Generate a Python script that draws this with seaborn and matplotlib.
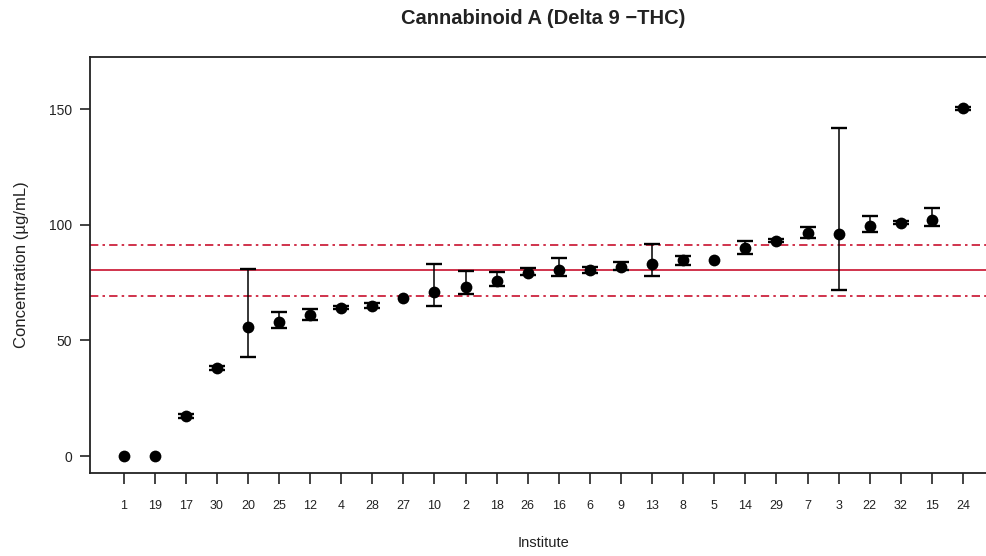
import numpy as np
import pandas as pd
import matplotlib
matplotlib.use("Agg")
import matplotlib.pyplot as plt
import seaborn as sns

# ---- data ----
institutes = ["1", "19", "17", "30", "20", "25", "12", "4", "28", "27", "10", "2", "18", "26",
              "16", "6", "9", "13", "8", "5", "14", "29", "7", "3", "22", "32", "15", "24"]
concentration = [0.0, 0.0, 17.4, 37.9, 55.9, 58.1, 61.0, 64.1, 65.0, 68.5, 71.0, 73.2, 75.7, 79.3,
                 80.4, 80.4, 81.8, 82.9, 84.7, 84.7, 89.8, 93.1, 96.3, 96.0, 99.4, 100.9, 102.0, 150.3]
lower = [0.0, 0.0, 16.6, 37.1, 42.9, 55.2, 58.7, 63.4, 63.8, 68.5, 64.9, 69.9, 73.5, 78.3,
         77.8, 79.0, 80.4, 77.8, 82.6, 84.7, 87.3, 92.3, 94.1, 71.8, 96.7, 100.2, 99.4, 149.6]
upper = [0.0, 0.0, 18.2, 38.7, 80.8, 62.1, 63.7, 64.8, 66.1, 68.5, 82.9, 80.0, 79.7, 81.1,
         85.5, 81.9, 83.7, 91.7, 86.5, 84.7, 93.1, 93.9, 99.1, 141.9, 103.8, 101.6, 107.3, 151.0]
consensus_mean = 80.4
consensus_upper = 91.0
consensus_lower = 69.0
y_ticks = [0, 50, 100, 150]

df = pd.DataFrame({"Institute": institutes, "Concentration": concentration,
                   "lower": lower, "upper": upper})

sns.set_theme(style="white")
plt.rcParams["font.family"] = ["Liberation Sans", "DejaVu Sans"]
text_col = "#222222"
red = "#c8102e"

fig = plt.figure(figsize=(9.87, 5.56), dpi=100)
ax = fig.add_axes([90 / 987, 1 - 472.5 / 556, (996.6 - 90) / 987, (472.5 - 57.3) / 556])

# points (sets the categorical x axis in institute order)
sns.scatterplot(data=df, x="Institute", y="Concentration", ax=ax, color="black",
                s=72, edgecolor="black", linewidth=0, zorder=3)

# consensus lines
ax.axhline(consensus_mean, color=red, lw=1.2, zorder=1)
for v in (consensus_upper, consensus_lower):
    ax.axhline(v, color=red, lw=1.2, ls=(0, (5, 2.5, 1.5, 2.5)), zorder=1)

# error bars (only where a spread exists)
eb = df[df["upper"] > df["lower"]]
yerr = np.vstack([eb["Concentration"] - eb["lower"], eb["upper"] - eb["Concentration"]])
ax.errorbar(eb["Institute"], eb["Concentration"], yerr=yerr, fmt="none",
            ecolor="black", elinewidth=1.1, capsize=6, capthick=1.7, zorder=2)

ax.set_xlim(-1.08, len(institutes) - 1 + 1.08)
ax.set_ylim(-7.13, 172.35)
ax.set_yticks(y_ticks)
ax.set_yticklabels([str(t) for t in y_ticks])

for sp in ax.spines.values():
    sp.set_visible(True)
    sp.set_color("#222222")
    sp.set_linewidth(1.3)

ax.tick_params(axis="x", length=8, width=1.2, color="#222222", pad=12,
               labelsize=9, labelcolor=text_col, bottom=True)
ax.tick_params(axis="y", length=7, width=1.2, color="#222222", pad=6,
               labelsize=10, labelcolor=text_col, left=True)

ax.set_xlabel("Institute", fontsize=10.5, color=text_col, labelpad=17)
ax.set_ylabel("Concentration (µg/mL)", fontsize=12, color=text_col, labelpad=14)
ax.set_title("Cannabinoid A (Delta 9 \u2212THC)", fontsize=14.5, fontweight="bold",
             color=text_col, pad=24)

fig.savefig("out.png", dpi=100)
